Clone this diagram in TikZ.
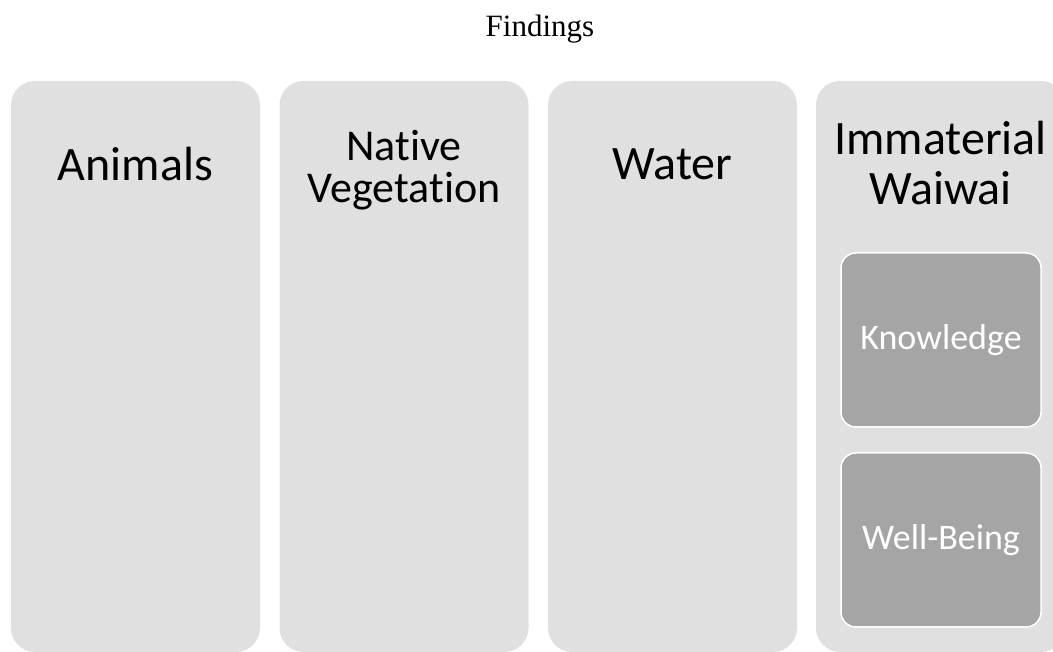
\documentclass[tikz,border=0pt]{standalone}
\usepackage{fontspec}
\setmainfont{Carlito}[Ligatures=NoCommon]
\newfontfamily\titlefont{Liberation Serif}
\definecolor{colgray}{HTML}{E0E0E0}
\definecolor{subgray}{HTML}{A5A5A5}
\begin{document}
\begin{tikzpicture}[x=1pt,y=1pt,
	colbox/.style={fill=colgray,rounded corners=24pt,minimum width=249pt,minimum height=571pt,inner sep=0pt},
	subbox/.style={fill=subgray,draw=white,line width=1.5pt,rounded corners=15pt,minimum width=200pt,minimum height=174pt,text=white,font=\fontsize{36}{40}\selectfont},
	collabel/.style={anchor=base,align=center,font=\fontsize{48}{50}\selectfont}]
		\useasboundingbox (0,0) rectangle (1053,652);
		\clip (0,0) rectangle (1053,652); % cột cuối bị cắt ở mép phải
		\def\h{285.5} % tâm theo chiều dọc của các cột
		\node[anchor=base,font=\titlefont\fontsize{31}{36}\selectfont] (title) at (540,615) {Findings};
		\node[colbox] (animals) at (135.5,\h) {};
		\node[colbox] (vegetation) at (404,\h) {};
		\node[colbox] (water) at (672.5,\h) {};
		\node[colbox] (waiwai) at (940.5,\h) {};
		\node[collabel] (animalsT) at (135.5,471) {Animals};
		\node[collabel,font=\fontsize{44}{42}\selectfont] (vegetationT) at (404,449) {Native\\Vegetation}; % base = dòng cuối
		\node[collabel] (waterT) at (672.5,472) {Water};
		\node[collabel] (waiwaiT) at (940.5,447) {Immaterial\\Waiwai};
		\node[subbox] (knowledge) at (941,312) {Knowledge};
		\node[subbox] (wellbeing) at (941,112) {Well-Being};
\end{tikzpicture}
\end{document}
